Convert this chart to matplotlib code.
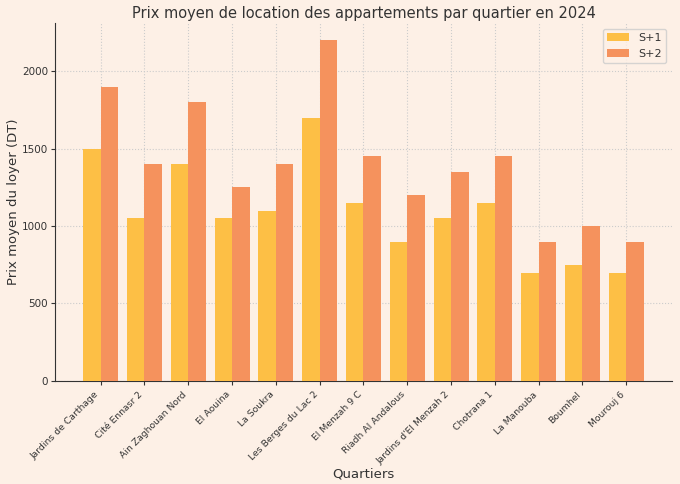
import matplotlib
matplotlib.use("Agg")
import matplotlib.pyplot as plt
import numpy as np

quartiers = ["Jardins de Carthage", "Cité Ennasr 2", "Ain Zaghouan Nord", "El Aouina",
             "La Soukra", "Les Berges du Lac 2", "El Menzah 9 C", "Riadh Al Andalous",
             "Jardins d'El Menzah 2", "Chotrana 1", "La Manouba", "Boumhel", "Mourouj 6"]
s1 = [1500, 1050, 1400, 1050, 1100, 1700, 1150, 900, 1050, 1150, 700, 750, 700]
s2 = [1900, 1400, 1800, 1250, 1400, 2200, 1450, 1200, 1350, 1450, 900, 1000, 900]

dark = "#333333"
plt.rcParams.update({"text.color": dark, "axes.labelcolor": dark,
                     "xtick.color": dark, "ytick.color": dark, "axes.edgecolor": dark})

bg = "#fdf0e6"
fig, ax = plt.subplots(figsize=(6.8, 4.84), dpi=100)
fig.patch.set_facecolor(bg)
ax.set_facecolor(bg)

x = np.arange(len(quartiers))
w = 0.4
ax.bar(x - w/2, s1, w, label="S+1", color="#fdbf45", zorder=3)
ax.bar(x + w/2, s2, w, label="S+2", color="#f5925d", zorder=3)

ax.set_xticks(x)
ax.set_xticklabels(quartiers, rotation=45, ha="right", fontsize=6.7)
ax.tick_params(axis="y", labelsize=7.5, pad=2)
ax.tick_params(axis="both", length=3)
ax.set_title("Prix moyen de location des appartements par quartier en 2024", fontsize=10.5, pad=4)
ax.set_xlabel("Quartiers", fontsize=9.5, labelpad=1)
ax.set_ylabel("Prix moyen du loyer (DT)", fontsize=9.5)
ax.yaxis.set_label_coords(-0.057, 0.5)
ax.grid(True, linestyle=":", color="#cccccc", linewidth=0.8, zorder=0)
for s in ["top", "right"]:
    ax.spines[s].set_visible(False)
leg = ax.legend(fontsize=8, loc="upper right", facecolor=bg)
fig.subplots_adjust(left=0.081, right=0.988, top=0.952, bottom=0.213)
fig.savefig("out.png", dpi=100, facecolor=bg)
